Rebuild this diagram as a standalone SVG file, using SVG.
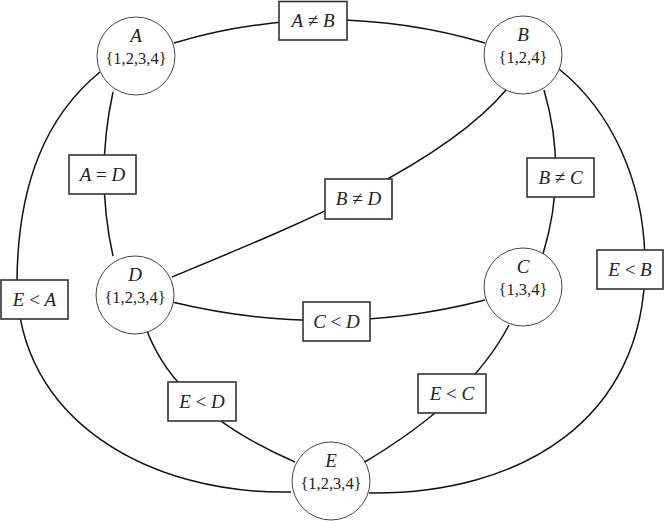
<svg xmlns="http://www.w3.org/2000/svg" width="664" height="521" viewBox="0 0 664 521" font-family="Liberation Serif, Times New Roman, serif">
<style>
.edge{fill:none;stroke:#111;stroke-width:1.5}
.node circle{fill:#fff;stroke:#444;stroke-width:1}
.box rect{fill:#fff;stroke:#333;stroke-width:1.6}
text{fill:#222;text-anchor:middle}
.nl{font-size:19px;font-style:italic}
.ns{font-size:16.5px}
.bl{font-size:19px}
.i{font-style:italic}
</style>
<rect width="664" height="521" fill="#fff"/>
<g id="connectors">
<path class="edge" d="M174,43 Q329,-3 485,43"/>
<path class="edge" d="M113,92 Q95,175 113,256"/>
<path class="edge" d="M100,72 C45,117 18,185 17,280 C16,420 150,495 291,492"/>
<path class="edge" d="M559,69 C610,110 645,180 645,265 C645,420 520,495 369,493"/>
<path class="edge" d="M506,90 C440,168 290,228 172,277"/>
<path class="edge" d="M544,90 Q568,172 543,254"/>
<path class="edge" d="M172,302 Q330,340 485,300"/>
<path class="edge" d="M146,328 Q175,410 295,462"/>
<path class="edge" d="M509,325 Q470,400 363,463"/>
</g>
<g id="A" class="node"><circle cx="136" cy="56" r="39"/><text class="nl" x="136" y="42">A</text><text class="ns" x="136" y="64">{1,2,3,4}</text></g>
<g id="B" class="node"><circle cx="523" cy="55" r="39"/><text class="nl" x="523" y="41">B</text><text class="ns" x="523" y="63">{1,2,4}</text></g>
<g id="C" class="node"><circle cx="523" cy="287" r="39"/><text class="nl" x="523" y="273">C</text><text class="ns" x="523" y="295">{1,3,4}</text></g>
<g id="D" class="node"><circle cx="135" cy="295" r="39"/><text class="nl" x="135" y="281">D</text><text class="ns" x="135" y="303">{1,2,3,4}</text></g>
<g id="E" class="node"><circle cx="331" cy="481" r="39"/><text class="nl" x="331" y="467">E</text><text class="ns" x="331" y="489">{1,2,3,4}</text></g>
<g id="AneB" class="box"><rect x="279" y="1.5" width="68" height="38.5"/><text class="bl" x="313" y="27"><tspan class="i">A</tspan> ≠ <tspan class="i">B</tspan></text></g>
<g id="AeqD" class="box"><rect x="69" y="155" width="67" height="39"/><text class="bl" x="102.5" y="181"><tspan class="i">A</tspan> = <tspan class="i">D</tspan></text></g>
<g id="BneD" class="box"><rect x="325" y="179" width="67" height="40"/><text class="bl" x="358.5" y="205"><tspan class="i">B</tspan> ≠ <tspan class="i">D</tspan></text></g>
<g id="BneC" class="box"><rect x="527" y="158" width="67" height="39"/><text class="bl" x="560.5" y="184"><tspan class="i">B</tspan> ≠ <tspan class="i">C</tspan></text></g>
<g id="EltB" class="box"><rect x="597" y="250" width="66" height="39"/><text class="bl" x="630" y="276"><tspan class="i">E</tspan> &lt; <tspan class="i">B</tspan></text></g>
<g id="EltA" class="box"><rect x="1" y="280" width="67" height="39"/><text class="bl" x="34.5" y="306"><tspan class="i">E</tspan> &lt; <tspan class="i">A</tspan></text></g>
<g id="CltD" class="box"><rect x="303" y="302" width="67" height="39"/><text class="bl" x="336.5" y="328"><tspan class="i">C</tspan> &lt; <tspan class="i">D</tspan></text></g>
<g id="EltD" class="box"><rect x="168" y="382" width="68" height="39"/><text class="bl" x="202" y="408"><tspan class="i">E</tspan> &lt; <tspan class="i">D</tspan></text></g>
<g id="EltC" class="box"><rect x="418" y="374" width="68" height="39"/><text class="bl" x="452" y="400"><tspan class="i">E</tspan> &lt; <tspan class="i">C</tspan></text></g>
</svg>
